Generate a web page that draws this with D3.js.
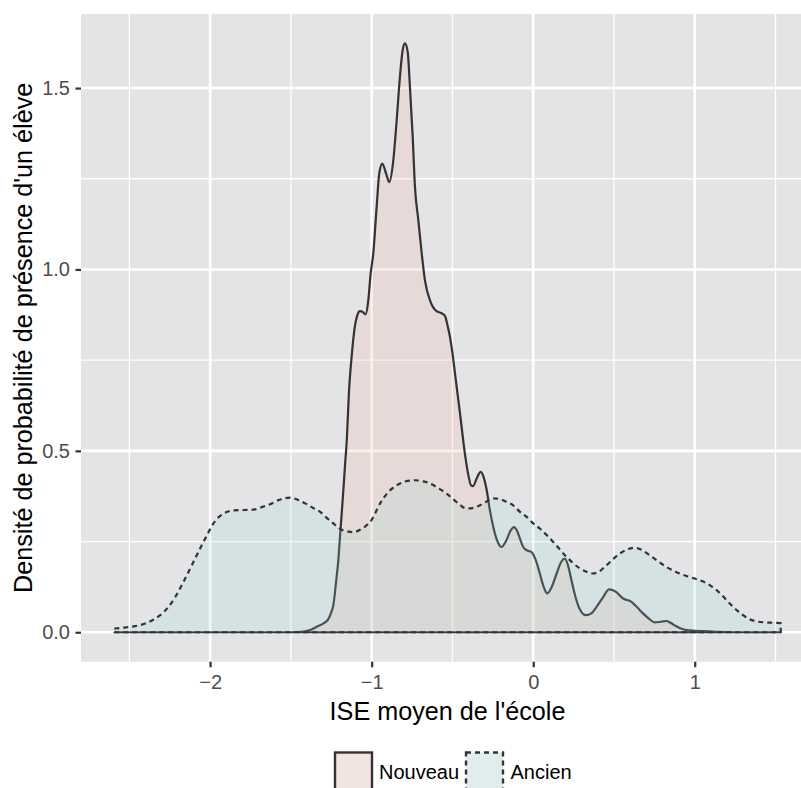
<!DOCTYPE html>
<html>
<head>
<meta charset="utf-8">
<script src="https://cdn.jsdelivr.net/npm/d3@7"></script>
<style>
  html, body { margin: 0; padding: 0; background: #ffffff; }
  svg { display: block; }
  text { font-family: "Liberation Sans", Arial, Helvetica, sans-serif; }
</style>
</head>
<body>
<div id="chart"></div>
<script>
// ---- Data ----
const groups = ["Nouveau", "Ancien"];
const groupFills = ["rgba(243,173,160,0.2)", "rgba(153,218,215,0.2)"];
const groupDash = [null, "5,4"];

const nouveau = [
  [-2.593, 0], [-1.50, 0], [-1.42, 0.002], [-1.38, 0.006], [-1.34, 0.015], [-1.30, 0.024],
  [-1.27, 0.035], [-1.25, 0.055], [-1.237, 0.075], [-1.22, 0.14], [-1.206, 0.20], [-1.196, 0.263],
  [-1.185, 0.33], [-1.175, 0.392], [-1.165, 0.46], [-1.154, 0.529], [-1.140, 0.667], [-1.124, 0.759],
  [-1.108, 0.83], [-1.090, 0.872], [-1.072, 0.885], [-1.055, 0.883], [-1.038, 0.876], [-1.022, 0.91],
  [-1.006, 0.99], [-0.990, 1.044], [-0.969, 1.173], [-0.953, 1.265], [-0.934, 1.292], [-0.911, 1.265],
  [-0.891, 1.241], [-0.866, 1.301], [-0.845, 1.412], [-0.825, 1.531], [-0.808, 1.605], [-0.794, 1.623],
  [-0.777, 1.600], [-0.763, 1.503], [-0.746, 1.366], [-0.732, 1.228], [-0.711, 1.136], [-0.690, 1.044],
  [-0.670, 0.970], [-0.639, 0.915], [-0.598, 0.885], [-0.570, 0.880], [-0.546, 0.872], [-0.530, 0.845],
  [-0.515, 0.814], [-0.500, 0.77], [-0.484, 0.713], [-0.453, 0.603], [-0.423, 0.493], [-0.400, 0.43],
  [-0.385, 0.405], [-0.372, 0.403], [-0.350, 0.424], [-0.325, 0.442], [-0.305, 0.425], [-0.288, 0.392],
  [-0.268, 0.336], [-0.247, 0.290], [-0.225, 0.255], [-0.196, 0.235], [-0.170, 0.250], [-0.140, 0.280],
  [-0.120, 0.290], [-0.100, 0.280], [-0.082, 0.258], [-0.062, 0.235], [-0.040, 0.226], [-0.010, 0.221],
  [0.015, 0.20], [0.041, 0.162], [0.065, 0.125], [0.087, 0.107], [0.115, 0.125], [0.145, 0.162],
  [0.175, 0.195], [0.196, 0.203], [0.215, 0.185], [0.237, 0.143], [0.26, 0.100], [0.29, 0.062],
  [0.326, 0.047], [0.360, 0.052], [0.392, 0.070], [0.430, 0.095], [0.470, 0.118], [0.510, 0.112],
  [0.557, 0.093], [0.608, 0.084], [0.645, 0.068], [0.680, 0.052], [0.720, 0.036], [0.753, 0.027],
  [0.790, 0.029], [0.825, 0.031], [0.850, 0.026], [0.876, 0.019], [0.910, 0.011], [0.949, 0.006],
  [1.000, 0.004], [1.072, 0.003], [1.15, 0.001], [1.25, 0], [1.532, 0]
];

const ancien = [
  [-2.593, 0.010], [-2.53, 0.013], [-2.464, 0.017], [-2.402, 0.024], [-2.35, 0.035], [-2.309, 0.047],
  [-2.258, 0.070], [-2.216, 0.097], [-2.165, 0.139], [-2.113, 0.185], [-2.062, 0.231], [-2.020, 0.267],
  [-1.979, 0.300], [-1.945, 0.318], [-1.917, 0.327], [-1.856, 0.336], [-1.790, 0.337], [-1.732, 0.338],
  [-1.680, 0.345], [-1.629, 0.353], [-1.565, 0.366], [-1.505, 0.371], [-1.45, 0.364], [-1.402, 0.353],
  [-1.360, 0.342], [-1.319, 0.332], [-1.280, 0.316], [-1.237, 0.300], [-1.196, 0.285], [-1.15, 0.278],
  [-1.113, 0.276], [-1.070, 0.283], [-1.031, 0.295], [-1.000, 0.31], [-0.948, 0.355], [-0.900, 0.385],
  [-0.845, 0.405], [-0.790, 0.416], [-0.732, 0.419], [-0.680, 0.416], [-0.639, 0.410], [-0.590, 0.398],
  [-0.536, 0.382], [-0.474, 0.359], [-0.412, 0.341], [-0.370, 0.343], [-0.330, 0.350], [-0.290, 0.360],
  [-0.247, 0.369], [-0.206, 0.367], [-0.165, 0.359], [-0.124, 0.350], [-0.082, 0.332], [-0.041, 0.318],
  [0.000, 0.300], [0.041, 0.286], [0.124, 0.249], [0.206, 0.208], [0.289, 0.176], [0.330, 0.167],
  [0.371, 0.162], [0.410, 0.168], [0.454, 0.185], [0.536, 0.217], [0.580, 0.228], [0.629, 0.233],
  [0.680, 0.225], [0.722, 0.212], [0.775, 0.195], [0.825, 0.180], [0.890, 0.165], [0.949, 0.155],
  [1.000, 0.148], [1.052, 0.140], [1.100, 0.128], [1.134, 0.117], [1.175, 0.099], [1.217, 0.079],
  [1.260, 0.061], [1.299, 0.047], [1.340, 0.036], [1.382, 0.030], [1.440, 0.027], [1.490, 0.026],
  [1.532, 0.025]
];

const xTicks = [-2, -1, 0, 1];
const xMinor = [-2.5, -1.5, -0.5, 0.5, 1.5];
const yTicks = [0, 0.5, 1.0, 1.5];
const yMinor = [0.25, 0.75, 1.25];
const xTitle = "ISE moyen de l'école";
const yTitle = "Densité de probabilité de présence d'un élève";

// ---- Layout ----
const W = 801, H = 788;
const panel = { left: 81, right: 814, top: 14, bottom: 661.7 };

const svg = d3.select("#chart").append("svg")
  .attr("width", W).attr("height", H)
  .attr("viewBox", `0 0 ${W} ${H}`);

svg.append("rect").attr("width", W).attr("height", H).attr("fill", "#ffffff");

const series = [nouveau, ancien];
const allX = series.flat().map(d => d[0]);
const xMin = d3.min(allX), xMax = d3.max(allX);
const xPad = (xMax - xMin) * 0.05;
const yMax = d3.max(series.flat(), d => d[1]);
const yPad = yMax * 0.05;

const x = d3.scaleLinear().domain([xMin - xPad, xMax + xPad]).range([panel.left, panel.right]);
const y = d3.scaleLinear().domain([-yPad, yMax + yPad]).range([panel.bottom, panel.top]);

// Panel background
svg.append("rect")
  .attr("x", panel.left).attr("y", panel.top)
  .attr("width", panel.right - panel.left).attr("height", panel.bottom - panel.top)
  .attr("fill", "#E4E4E6");

const grid = svg.append("g");
grid.selectAll("line.xminor").data(xMinor).join("line")
  .attr("x1", d => x(d)).attr("x2", d => x(d))
  .attr("y1", panel.top).attr("y2", panel.bottom)
  .attr("stroke", "#ffffff").attr("stroke-width", 1.3);
grid.selectAll("line.yminor").data(yMinor).join("line")
  .attr("y1", d => y(d)).attr("y2", d => y(d))
  .attr("x1", panel.left).attr("x2", panel.right)
  .attr("stroke", "#ffffff").attr("stroke-width", 1.3);
grid.selectAll("line.xmajor").data(xTicks).join("line")
  .attr("x1", d => x(d)).attr("x2", d => x(d))
  .attr("y1", panel.top).attr("y2", panel.bottom)
  .attr("stroke", "#ffffff").attr("stroke-width", 2.6);
grid.selectAll("line.ymajor").data(yTicks).join("line")
  .attr("y1", d => y(d)).attr("y2", d => y(d))
  .attr("x1", panel.left).attr("x2", panel.right)
  .attr("stroke", "#ffffff").attr("stroke-width", 2.6);

// ---- Density polygons ----
const curve = d3.curveMonotoneX;
const area = d3.area().x(d => x(d[0])).y0(y(0)).y1(d => y(d[1])).curve(curve);
const line = d3.line().x(d => x(d[0])).y(d => y(d[1])).curve(curve);

series.forEach((data, i) => {
  const g = svg.append("g");
  g.append("path").attr("d", area(data)).attr("fill", groupFills[i]).attr("stroke", "none");
  const first = data[0], last = data[data.length - 1];
  const outline = line(data) +
    `L${x(last[0])},${y(0)}L${x(first[0])},${y(0)}L${x(first[0])},${y(first[1])}`;
  g.append("path").attr("d", outline)
    .attr("fill", "none").attr("stroke", "#333333").attr("stroke-width", 2.2)
    .attr("stroke-linejoin", "round")
    .attr("stroke-dasharray", groupDash[i]);
});

// ---- Axes ----
const xAxis = d3.axisBottom(x).tickValues(xTicks).tickSize(5.5).tickPadding(8)
  .tickFormat(d3.format("d"));
const yAxis = d3.axisLeft(y).tickValues(yTicks).tickSize(5.5).tickPadding(5.5)
  .tickFormat(d3.format(".1f"));

const gx = svg.append("g").attr("transform", `translate(0,${panel.bottom})`).call(xAxis);
const gy = svg.append("g").attr("transform", `translate(${panel.left},0)`).call(yAxis);
[gx, gy].forEach(g => {
  g.select(".domain").remove();
  g.selectAll(".tick line").attr("stroke", "#333333").attr("stroke-width", 2.2);
  g.selectAll(".tick text").attr("fill", "#4D4D4D")
    .style("font-family", '"Liberation Sans", Arial, sans-serif')
    .style("font-size", "20px");
});

// Axis titles
svg.append("text")
  .attr("x", (panel.left + panel.right) / 2).attr("y", 719.5)
  .attr("text-anchor", "middle").attr("fill", "#000000")
  .style("font-size", "25.2px")
  .text(xTitle);

svg.append("text")
  .attr("transform", `translate(32,${(panel.top + panel.bottom) / 2}) rotate(-90)`)
  .attr("text-anchor", "middle").attr("fill", "#000000")
  .style("font-size", "25.2px")
  .text(yTitle);

// ---- Legend ----
const legendItems = [
  { key: 335, text: 379, i: 0 },
  { key: 466, text: 510.5, i: 1 }
];
const legend = svg.append("g");
legendItems.forEach(li => {
  legend.append("rect")
    .attr("x", li.key).attr("y", 752.5).attr("width", 37).attr("height", 37)
    .attr("fill", "#F2F2F2");
  legend.append("rect")
    .attr("x", li.key).attr("y", 752.5).attr("width", 37).attr("height", 37)
    .attr("fill", groupFills[li.i])
    .attr("stroke", "#333333").attr("stroke-width", 2.4)
    .attr("stroke-dasharray", groupDash[li.i]);
  legend.append("text")
    .attr("x", li.text).attr("y", 778.5)
    .attr("fill", "#000000").style("font-size", "20px")
    .text(groups[li.i]);
});
</script>
</body>
</html>
